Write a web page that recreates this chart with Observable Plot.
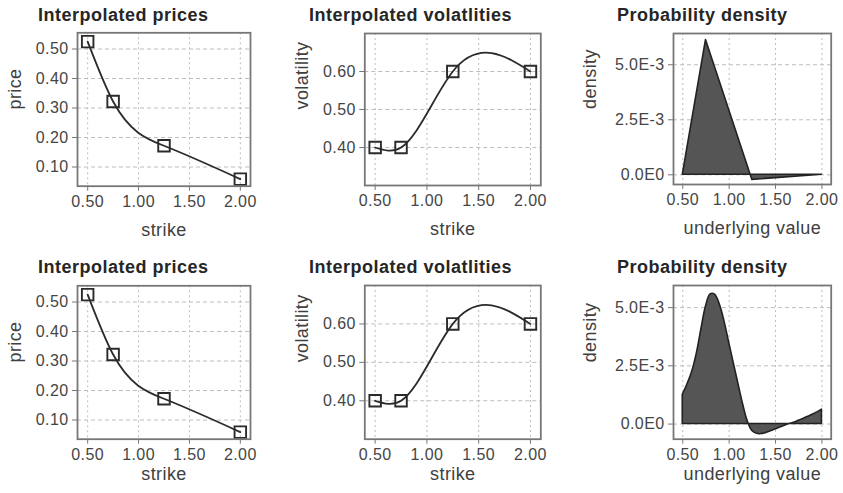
<!DOCTYPE html>
<html><head><meta charset="utf-8">
<script src="https://cdn.jsdelivr.net/npm/d3@7"></script>
<script src="https://cdn.jsdelivr.net/npm/@observablehq/plot@0.6"></script>
<style>
body{margin:0;background:#fff;}
#chart{position:relative;width:843px;height:493px;overflow:hidden;background:#fff;font-family:"Liberation Sans",Arial,sans-serif;}
.panel{position:absolute;}
.title{position:absolute;font-weight:bold;font-size:18px;line-height:18px;letter-spacing:0.5px;color:#262626;white-space:nowrap;}
</style></head><body><div id="chart"></div>
<script>
// ---- data ----
const strikes = [0.5, 0.75, 1.25, 2.0];
const prices = [0.525, 0.322, 0.172, 0.059];
const vols = [0.40, 0.40, 0.60, 0.60];
const densityTop = [0, 0.00612, -0.00023, 0];
const densityX = [0.50,0.55,0.60,0.65,0.70,0.75,0.80,0.85,0.90,0.95,1.00,1.05,1.10,1.15,1.20,1.25,1.30,1.35,1.40,1.45,1.50,1.55,1.60,1.65,1.70,1.75,1.80,1.85,1.90,1.95,2.00];
const densityBottom = [0.00126,0.00170,0.00222,0.00300,0.00405,0.00505,0.00557,0.00555,0.00512,0.00440,0.00350,0.00260,0.00172,0.00085,0.00012,-0.00030,-0.00042,-0.00043,-0.00038,-0.00031,-0.00023,-0.00015,-0.00007,0.00000,0.00006,0.00014,0.00022,0.00031,0.00040,0.00050,0.00062];
const xTicks = [0.5, 1.0, 1.5, 2.0];
const priceTicks = [0.1, 0.2, 0.3, 0.4, 0.5];
const volTicks = [0.4, 0.5, 0.6];
const densityTicks = [0, 0.0025, 0.005];
const titles = ["Interpolated prices", "Interpolated volatlities", "Probability density"];
const xLabels = ["strike", "strike", "underlying value"];
const yLabels = ["price", "volatility", "density"];

// ---- tables ----
const pts = strikes.map((s, i) => ({strike: s, price: prices[i], vol: vols[i], dens: densityTop[i]}));
const densB = densityX.map((x, i) => ({x, d: densityBottom[i]}));

const fmt2 = d3.format(".2f");
const fmtE = d => d === 0 ? "0.0E0" : (d * 1000).toFixed(1) + "E-3";
const FONT = '"Liberation Sans", Arial, sans-serif';
const chart = document.getElementById("chart");

// natural cubic spline as a function of x (curve factory, drawn as bezier segments)
function splineX(context) {
  let xs = [], ys = [];
  return {
    areaStart() {}, areaEnd() {},
    lineStart() { xs = []; ys = []; },
    point(x, y) { xs.push(+x); ys.push(+y); },
    lineEnd() {
      const n = xs.length;
      if (!n) return;
      context.moveTo(xs[0], ys[0]);
      if (n === 1) return;
      if (n === 2) { context.lineTo(xs[1], ys[1]); return; }
      const h = [], s = [];
      for (let i = 0; i < n - 1; i++) { h[i] = xs[i + 1] - xs[i]; s[i] = (ys[i + 1] - ys[i]) / h[i]; }
      const a = [], b = [], c = [], d = [];
      for (let i = 1; i < n - 1; i++) { a.push(h[i - 1]); b.push(2 * (h[i - 1] + h[i])); c.push(h[i]); d.push(6 * (s[i] - s[i - 1])); }
      const m = b.length;
      for (let i = 1; i < m; i++) { const w = a[i] / b[i - 1]; b[i] -= w * c[i - 1]; d[i] -= w * d[i - 1]; }
      const sol = new Array(m);
      sol[m - 1] = d[m - 1] / b[m - 1];
      for (let i = m - 2; i >= 0; i--) sol[i] = (d[i] - c[i] * sol[i + 1]) / b[i];
      const M = [0, ...sol, 0];
      for (let i = 0; i < n - 1; i++) {
        const hi = h[i];
        const m0 = s[i] - hi * (2 * M[i] + M[i + 1]) / 6;
        const m1 = s[i] + hi * (M[i] + 2 * M[i + 1]) / 6;
        context.bezierCurveTo(xs[i] + hi / 3, ys[i] + m0 * hi / 3, xs[i + 1] - hi / 3, ys[i + 1] - m1 * hi / 3, xs[i + 1], ys[i + 1]);
      }
    }
  };
}

function panel(cfg) {
  const MR = 12, MB = 60;
  const ML = cfg.L - cfg.sx, MT = cfg.T - cfg.sy;
  const width = Math.round(cfg.R + MR - cfg.sx);
  const height = Math.round(cfg.B + MB - cfg.sy);
  const p = Plot.plot({
    width, height,
    marginLeft: ML, marginRight: width - ML - (cfg.R - cfg.L), marginTop: MT, marginBottom: height - MT - (cfg.B - cfg.T),
    style: {fontFamily: FONT, fontSize: "16px", color: "#4a4a4a", background: "transparent", overflow: "visible", letterSpacing: "0.4px"},
    x: {domain: [0.4, 2.1]},
    y: {domain: cfg.yDomain},
    marks: [
      Plot.gridX(xTicks, {stroke: "#bdbdbd", strokeOpacity: 1, strokeDasharray: "2,3"}),
      Plot.gridY(cfg.yTicks, {stroke: "#bdbdbd", strokeOpacity: 1, strokeDasharray: "4,3"}),
      ...cfg.marks,
      Plot.frame({stroke: "#777", strokeWidth: 1.8}),
      Plot.axisX(xTicks, {tickFormat: fmt2, tickSize: 5, tickPadding: 4, stroke: "#777", fill: "#454545", fontSize: 16, label: null}),
      Plot.axisY(cfg.yTicks, {tickFormat: cfg.yFormat, tickSize: 5, tickPadding: 4, stroke: "#777", fill: "#454545", fontSize: 16, label: null}),
      Plot.text([cfg.xLabel], {frameAnchor: "bottom", dy: cfg.xOff, text: d => d, lineAnchor: "middle", fontSize: 18, fill: "#404040"}),
      Plot.text([cfg.yLabel], {frameAnchor: "left", dx: -cfg.yOff, rotate: -90, text: d => d, lineAnchor: "middle", fontSize: 18, fill: "#404040"})
    ]
  });
  p.classList.add("panel");
  p.style.left = cfg.sx + "px";
  p.style.top = cfg.sy + "px";
  chart.appendChild(p);
  const t = document.createElement("div");
  t.className = "title";
  t.textContent = cfg.title;
  t.style.left = cfg.tx + "px";
  t.style.top = cfg.ty + "px";
  chart.appendChild(t);
}

const lineStyle = {stroke: "#2b2b2b", strokeWidth: 1.8};
const dotStyle = {symbol: "square", r: 6.5, stroke: "#2b2b2b", strokeWidth: 1.9, fill: "none"};

function priceMarks() {
  return [
    Plot.line(pts, {x: "strike", y: "price", curve: splineX, ...lineStyle}),
    Plot.dot(pts, {x: "strike", y: "price", ...dotStyle})
  ];
}
function volMarks() {
  return [
    Plot.line(pts, {x: "strike", y: "vol", curve: splineX, ...lineStyle}),
    Plot.dot(pts, {x: "strike", y: "vol", ...dotStyle})
  ];
}

const rows = [
  {sy: 0, Ts: [32.3, 33, 33], Bs: [185.7, 185, 184], xOff: 44, ty: 5.5},
  {sy: 246, Ts: [285.3, 285, 285], Bs: [438.7, 438.7, 438.7], xOff: 35, ty: 257.5}
];
const cols = [
  {sx: 0, L: 77, R: 250, yOff: 62, tx: 38},
  {sx: 268, L: 364.3, R: 540.3, yOff: 63, tx: 309},
  {sx: 556, L: 673, R: 830.7, yOff: 83, tx: 617}
];

rows.forEach((row, ri) => {
  cols.forEach((col, ci) => {
    let marks, yDomain, yTicks, yFormat;
    if (ci === 0) { marks = priceMarks(); yDomain = [0.035, 0.555]; yTicks = priceTicks; yFormat = fmt2; }
    else if (ci === 1) { marks = volMarks(); yDomain = [0.30, 0.70]; yTicks = volTicks; yFormat = fmt2; }
    else {
      if (ri === 0) {
        marks = [Plot.areaY(pts, {x: "strike", y: "dens", fill: "#555", stroke: "#222", strokeWidth: 1.6})];
        yDomain = [-0.00044, 0.00642];
      } else {
        marks = [Plot.areaY(densB, {x: "x", y: "d", curve: "catmull-rom", fill: "#555", stroke: "#222", strokeWidth: 1.6})];
        yDomain = [-0.00065, 0.00595];
      }
      yTicks = densityTicks; yFormat = fmtE;
    }
    panel({
      sx: col.sx, sy: row.sy, L: col.L, R: col.R, T: row.Ts[ci], B: row.Bs[ci],
      yDomain, yTicks, yFormat, marks,
      xLabel: xLabels[ci], yLabel: yLabels[ci], xOff: row.xOff, yOff: col.yOff,
      title: titles[ci], tx: col.tx, ty: row.ty
    });
  });
});
</script></body></html>
